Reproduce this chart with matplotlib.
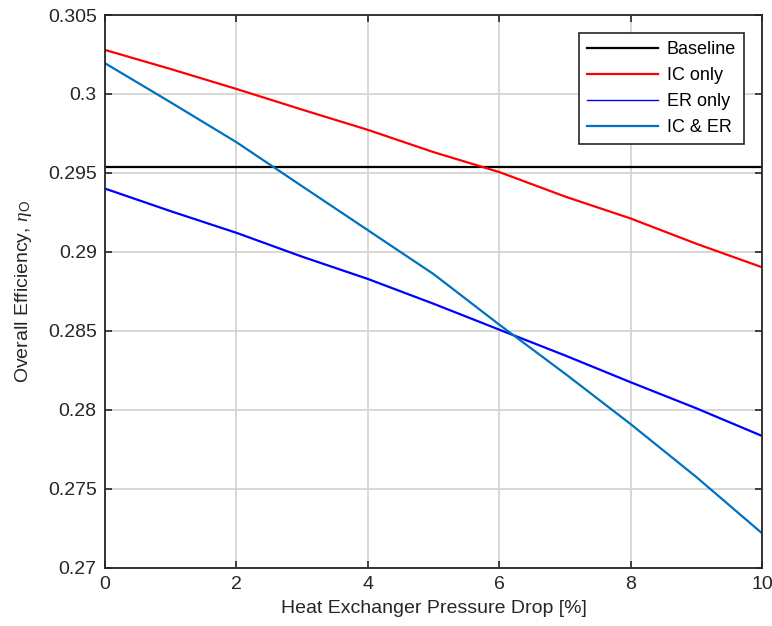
import numpy as np
import matplotlib
matplotlib.use("Agg")
import matplotlib.pyplot as plt

plt.rcParams['font.family'] = ['Liberation Sans', 'DejaVu Sans']
plt.rcParams['mathtext.fontset'] = 'custom'
plt.rcParams['mathtext.it'] = 'Liberation Serif:italic'
plt.rcParams['mathtext.rm'] = 'Liberation Sans'

# pressure drop [%]
dp = [0, 1, 2, 3, 4, 5, 6, 7, 8, 9, 10]

baseline = 0.29537
ic_only = [0.30279, 0.30158, 0.30032, 0.29901, 0.29773, 0.29632, 0.29506, 0.29351, 0.29212, 0.29052, 0.28903]
er_only = [0.29401, 0.29258, 0.29121, 0.28970, 0.28829, 0.28672, 0.28508, 0.28345, 0.28175, 0.28010, 0.27835]
ic_er = [0.30195, 0.29947, 0.29695, 0.29416, 0.29138, 0.28860, 0.28540, 0.28230, 0.27910, 0.27575, 0.27219]

labels = ["Baseline", "IC only", "ER only", "IC & ER"]
colors = ["k", "#ff0000", "#0000ff", "#0072bd"]

fig = plt.figure(figsize=(7.72, 6.26), dpi=100)
ax = fig.add_axes([0.136, 0.093, 0.851, 0.883])

lw = 1.6
ax.axhline(baseline, color=colors[0], lw=lw, label=labels[0])
ax.plot(dp, ic_only, color=colors[1], lw=lw, label=labels[1])
ax.plot(dp, er_only, color=colors[2], lw=lw, label=labels[2])
ax.plot(dp, ic_er, color=colors[3], lw=lw, label=labels[3])

ax.set_xlim(0, 10)
ax.set_ylim(0.27, 0.305)
ax.set_xticks([0, 2, 4, 6, 8, 10])
ax.set_yticks([0.27, 0.275, 0.28, 0.285, 0.29, 0.295, 0.3, 0.305])
ax.set_yticklabels(["0.27", "0.275", "0.28", "0.285", "0.29", "0.295", "0.3", "0.305"])

ax.grid(True, color="#d4d4d4", lw=1.3)
ax.set_axisbelow(True)
ax.tick_params(direction="in", top=True, right=True, length=5, width=1.2,
               labelsize=14, colors="#262626", pad=6)
for s in ax.spines.values():
    s.set_color("#262626")
    s.set_linewidth(1.3)

ax.set_xlabel("Heat Exchanger Pressure Drop [%]", fontsize=14, color="#262626", labelpad=5)
ax.set_ylabel(r"Overall Efficiency, $\eta_\mathrm{O}$", fontsize=14, color="#262626", labelpad=10)

leg = ax.legend(loc="upper right", fontsize=13, fancybox=False, framealpha=1,
                edgecolor="#262626", handlelength=3.9, borderaxespad=1.0,
                labelspacing=0.5, handletextpad=0.5, borderpad=0.45)
leg.get_frame().set_linewidth(1.2)
# ER only appears thinner in the legend of the reference
leg.get_lines()[2].set_linewidth(1.0)

fig.savefig("out.png", dpi=100)
